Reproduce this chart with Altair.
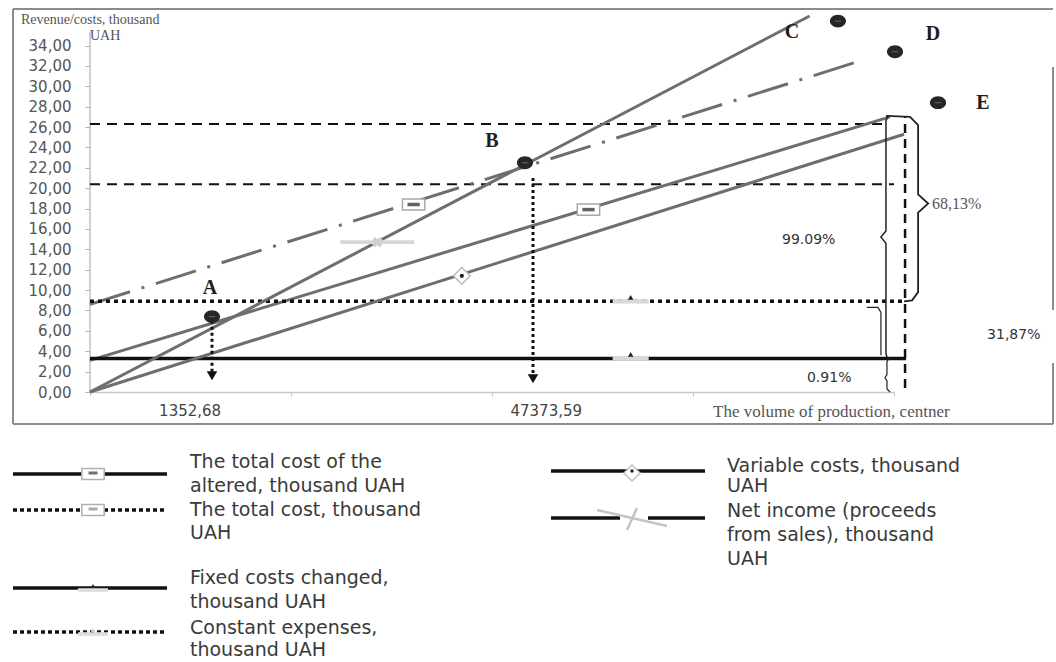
import altair as alt
import pandas as pd

# ---------------- data ----------------
series_names = [
    "The total cost of the altered, thousand  UAH",
    "The total cost, thousand UAH",
    "Fixed costs changed, thousand UAH",
    "Constant expenses, thousand UAH",
    "Variable costs, thousand UAH",
    "Net income (proceeds from sales), thousand UAH",
]
line_x0 = [0.0, 0.0, 0.0, 0.0, 0.0, 0.0]
line_x1 = [3.98, 3.80, 4.06, 4.06, 4.05, 3.58]
line_y0 = [3.1, 8.6, 3.3, 8.9, 0.0, 0.0]
line_y1 = [27.0, 32.3, 3.3, 8.9, 25.3, 36.9]
marker_x = [2.48, 1.61, 2.69, 2.69, 1.85, 1.43]
marker_y = [17.9, 18.4, 3.3, 8.9, 11.4, 14.7]

point_names = ["A", "B", "C", "D", "E"]
point_x = [0.607, 2.164, 3.721, 4.005, 4.219]
point_y = [7.4, 22.5, 36.4, 33.4, 28.4]
point_label_x = [0.597, 2.0, 3.493, 4.194, 4.443]
point_label_y = [10.2, 24.6, 35.3, 35.1, 28.4]

breakeven_labels = ["1352,68", "47373,59"]
breakeven_x = [0.607, 2.204]
breakeven_top = [7.0, 21.0]
breakeven_bottom = [1.6, 1.3]
breakeven_label_x = [0.498, 2.27]

guide_levels = [26.3, 20.4]
guide_end = [3.97, 4.0]
margin_x = [4.055]
margin_top = [27.0]
margin_bottom = [0.4]

pct_labels = ["99.09%", "68,13%", "31,87%", "0.91%"]
pct_x = [3.443, 4.189, 4.463, 3.567]
pct_y = [14.9, 18.5, 5.6, 1.4]

brace_right_x = [3.96, 4.08, 4.12, 4.12, 4.17, 4.12, 4.12, 4.09, 4.05]
brace_right_y = [27.1, 27.0, 26.2, 19.4, 18.5, 17.6, 9.8, 9.0, 8.9]
brace_left_x = [3.97, 3.96, 3.96, 3.935, 3.96, 3.96, 3.965]
brace_left_y = [27.1, 26.6, 15.8, 15.2, 14.6, 3.8, 3.4]
brace_small_x = [3.975, 3.965, 3.965, 3.955, 3.965, 3.965, 3.98]
brace_small_y = [3.3, 3.0, 1.7, 1.4, 1.1, 0.3, 0.0]
hook_x = [3.865, 3.92, 3.935, 3.935]
hook_y = [8.3, 8.3, 7.8, 3.6]

y_ticks = list(range(0, 35, 2))
x_ticks = [0, 1, 2, 3, 4]

y_title_lines = ["Revenue/costs, thousand", "UAH"]
x_title = "The volume of production, centner"

legend_texts = [
    "The total cost of the\naltered, thousand  UAH",
    "The total cost, thousand\nUAH",
    "Fixed costs changed,\nthousand UAH",
    "Constant expenses,\nthousand UAH",
    "Variable costs, thousand\nUAH",
    "Net income (proceeds\nfrom sales), thousand\nUAH",
]

# ---------------- scales / axes ----------------
xs = alt.Scale(domain=[0, 4], nice=False, zero=False)
ys = alt.Scale(domain=[0, 37], nice=False, zero=False)
x_axis = alt.Axis(values=x_ticks, labels=False, tickSize=4, tickColor="#c8c8c8",
                  domainColor="#c8c8c8", domainWidth=1.5, grid=False, title=None)
y_axis = alt.Axis(values=y_ticks, labelExpr="replace(format(datum.value, '.2f'), '.', ',')",
                  domain=False, grid=False, tickSize=5, tickColor="#b0b0b0",
                  labelColor="#555555", labelFont="DejaVu Sans", labelFontSize=15,
                  labelPadding=14, title=None)


def X(f):
    return alt.X(f, type="quantitative", scale=xs, axis=x_axis)


def Y(f):
    return alt.Y(f, type="quantitative", scale=ys, axis=y_axis)


def one():
    return alt.Chart(pd.DataFrame({"k": [0]}))


layers = []

# y axis line
layers.append(alt.Chart(pd.DataFrame({"x": [0.0], "y0": [0.0], "y1": [35.4]}))
              .mark_rule(color="#c0c0c0", strokeWidth=1.5)
              .encode(x=X("x"), y=Y("y0"), y2="y1"))

# dashed guide levels
layers.append(alt.Chart(pd.DataFrame({"y": guide_levels, "x0": [0.0, 0.0], "x1": guide_end}))
              .mark_rule(color="#111111", strokeWidth=2, strokeDash=[10, 7])
              .encode(x=X("x0"), x2="x1", y=Y("y")))
# vertical dashed margin line
layers.append(alt.Chart(pd.DataFrame({"x": margin_x, "y0": margin_bottom, "y1": margin_top}))
              .mark_rule(color="#111111", strokeWidth=2.5, strokeDash=[9, 6])
              .encode(x=X("x"), y=Y("y0"), y2="y1"))

# series lines
styles = [
    dict(color="#6e6e6e", strokeWidth=3),
    dict(color="#6e6e6e", strokeWidth=3, strokeDash=[42, 12, 3, 12]),
    dict(color="#111111", strokeWidth=3.5),
    dict(color="#111111", strokeWidth=3.5, strokeDash=[4, 4]),
    dict(color="#6e6e6e", strokeWidth=3),
    dict(color="#6e6e6e", strokeWidth=3),
]
for i in range(len(series_names)):
    df = pd.DataFrame({"x": [line_x0[i], line_x1[i]], "y": [line_y0[i], line_y1[i]],
                       "series": [series_names[i]] * 2})
    layers.append(alt.Chart(df).mark_line(**styles[i]).encode(x=X("x"), y=Y("y")))

# markers on the series
mk = pd.DataFrame({"x": marker_x, "y": marker_y, "series": series_names})
rect_path = "M-1,-0.5L1,-0.5L1,0.5L-1,0.5Z"
bar_path = "M-1,-0.12L1,-0.12L1,0.12L-1,0.12Z"
thin_bar = "M-1,-0.05L1,-0.05L1,0.05L-1,0.05Z"
for i in (0, 1):
    d = mk.iloc[[i]]
    layers.append(alt.Chart(d).mark_point(shape=rect_path, size=500, filled=True, fill="white",
                                          stroke="#a8a8a8", strokeWidth=1.5, opacity=1)
                  .encode(x=X("x"), y=Y("y")))
    layers.append(alt.Chart(d).mark_point(shape="stroke", size=150, stroke="#222222", strokeWidth=3.5)
                  .encode(x=X("x"), y=Y("y")))
for i in (2, 3):
    d = mk.iloc[[i]]
    layers.append(alt.Chart(d).mark_point(shape=bar_path, size=1300, filled=True, fill="#d8d8d8", opacity=1)
                  .encode(x=X("x"), y=Y("y")))
    layers.append(alt.Chart(d).mark_point(shape="triangle-up", size=30, filled=True, fill="#222222", opacity=1,
                                          yOffset=-4)
                  .encode(x=X("x"), y=Y("y")))
d = mk.iloc[[4]]
layers.append(alt.Chart(d).mark_point(shape="diamond", size=280, filled=True, fill="white",
                                      stroke="#bbbbbb", strokeWidth=1.5, opacity=1)
              .encode(x=X("x"), y=Y("y")))
layers.append(alt.Chart(d).mark_point(shape="circle", size=18, filled=True, fill="#222222", opacity=1)
              .encode(x=X("x"), y=Y("y")))
d = mk.iloc[[5]]
layers.append(alt.Chart(d).mark_point(shape=thin_bar, size=5500, filled=True, fill="#d6d6d6", opacity=1)
              .encode(x=X("x"), y=Y("y")))
layers.append(alt.Chart(d).mark_point(shape="cross", angle=45, size=110, filled=True, fill="#cfcfcf", opacity=1)
              .encode(x=X("x"), y=Y("y")))

# break-even drop lines and arrows
be = pd.DataFrame({"x": breakeven_x, "top": breakeven_top, "bottom": breakeven_bottom,
                   "label": breakeven_labels, "lx": breakeven_label_x,
                   "ly": [-1.9, -1.9]})
layers.append(alt.Chart(be).mark_rule(color="#111111", strokeWidth=3, strokeDash=[3, 3])
              .encode(x=X("x"), y=Y("top"), y2="bottom"))
layers.append(alt.Chart(be).mark_point(shape="triangle-down", size=110, filled=True, fill="#111111", opacity=1)
              .encode(x=X("x"), y=Y("bottom")))
layers.append(alt.Chart(be).mark_text(font="DejaVu Sans", fontSize=15, color="#444444", baseline="middle")
              .encode(x=X("lx"), y=Y("ly"), text="label:N"))

# braces and hooks
for bx, by, w in ((brace_right_x, brace_right_y, 1.8), (brace_left_x, brace_left_y, 1.5),
                  (brace_small_x, brace_small_y, 1.2), (hook_x, hook_y, 1.2)):
    bdf = pd.DataFrame({"x": bx, "y": by, "o": list(range(len(bx)))})
    layers.append(alt.Chart(bdf).mark_line(color="#222222", strokeWidth=w)
                  .encode(x=X("x"), y=Y("y"), order="o:Q"))

# percentages
pdf = pd.DataFrame({"x": pct_x, "y": pct_y, "t": pct_labels})
layers.append(alt.Chart(pdf.iloc[[0, 2, 3]]).mark_text(align="left", baseline="middle", font="DejaVu Sans",
                                                       fontSize=14, color="#333333")
              .encode(x=X("x"), y=Y("y"), text="t:N"))
layers.append(alt.Chart(pdf.iloc[[1]]).mark_text(align="left", baseline="middle", font="Liberation Serif",
                                                 fontSize=16, color="#555555")
              .encode(x=X("x"), y=Y("y"), text="t:N"))

# key points A-E
pts = pd.DataFrame({"x": point_x, "y": point_y, "name": point_names,
                    "lx": point_label_x, "ly": point_label_y})
layers.append(alt.Chart(pts).mark_point(shape="M-1,0A1,0.8,0,1,0,1,0A1,0.8,0,1,0,-1,0Z", size=260,
                                        filled=True, fill="#262626", opacity=1)
              .encode(x=X("x"), y=Y("y")))
layers.append(alt.Chart(pts).mark_point(shape="stroke", size=40, stroke="#777777", strokeWidth=1.2)
              .encode(x=X("x"), y=Y("y")))
layers.append(alt.Chart(pts).mark_text(font="Liberation Serif", fontWeight="bold", fontSize=20,
                                       color="#1e1e1e", baseline="middle")
              .encode(x=X("lx"), y=Y("ly"), text="name:N"))

# x title
layers.append(alt.Chart(pd.DataFrame({"x": [3.1], "y": [-1.95], "t": [x_title]}))
              .mark_text(align="left", baseline="middle", font="Liberation Serif", fontSize=17, color="#555555")
              .encode(x=X("x"), y=Y("y"), text="t:N"))

# y title (two lines)
layers.append(one().mark_text(align="left", baseline="middle", font="Liberation Serif", fontSize=14,
                              color="#555555", text=y_title_lines[0])
              .encode(x=alt.value(-69), y=alt.value(5)))
layers.append(one().mark_text(align="left", baseline="middle", font="Liberation Serif", fontSize=14,
                              color="#555555", text=y_title_lines[1])
              .encode(x=alt.value(0), y=alt.value(21)))

# outer frame
frame_col = "#8c8c8c"
for (x0, x1, y0, y1) in ((-77, 963, -6, -6), (-77, 963, 409, 409), (-77, -77, -6, 409),
                         (963, 963, 52, 295), (963, 963, 348, 409)):
    enc = dict(x=alt.value(x0), x2=alt.value(x1), y=alt.value(y0), y2=alt.value(y1))
    layers.append(one().mark_rule(color=frame_col, strokeWidth=2).encode(**enc))

# ---------------- legend (drawn) ----------------
legend_rows = [
    # (x0, x1, y, dash, marker, tx, ty, lineHeight)
    (-77, 77, 459, None, "box", 100, 453, 24),
    (-77, 77, 495, [4, 3], "box2", 100, 501, 23),
    (-77, 77, 573, None, "tri", 100, 569, 24),
    (-77, 77, 617, [4, 3], "tri2", 100, 619, 22),
    (461, 615, 456, None, "dia", 637, 457, 20),
    (461, 615, 503, None, "x", 637, 502, 24),
]
for i, (x0, x1, yy, dash, m, tx, ty, lh) in enumerate(legend_rows):
    rk = dict(color="#111111", strokeWidth=3.5)
    if dash:
        rk["strokeDash"] = dash
    layers.append(one().mark_rule(**rk).encode(x=alt.value(x0), x2=alt.value(x1), y=alt.value(yy)))
    cx = (x0 + x1) / 2 + (3 if i < 4 else 14)
    if m in ("box", "box2"):
        layers.append(one().mark_point(shape=rect_path, size=500, filled=True, fill="white",
                                       stroke="#b0b0b0", strokeWidth=1.5, opacity=1)
                      .encode(x=alt.value(cx), y=alt.value(yy)))
        layers.append(one().mark_point(shape="stroke", size=80, stroke="#333333" if m == "box" else "#888888",
                                       strokeWidth=3)
                      .encode(x=alt.value(cx), y=alt.value(yy - 1)))
    elif m in ("tri", "tri2"):
        layers.append(one().mark_point(shape=bar_path, size=900, filled=True, fill="#dddddd", opacity=1)
                      .encode(x=alt.value(cx), y=alt.value(yy + 2)))
        layers.append(one().mark_point(shape="triangle-up", size=22, filled=True,
                                       fill="#222222" if m == "tri" else "#cccccc", opacity=1)
                      .encode(x=alt.value(cx), y=alt.value(yy - 2)))
    elif m == "dia":
        layers.append(one().mark_point(shape="diamond", size=260, filled=True, fill="white",
                                       stroke="#c0c0c0", strokeWidth=1.5, opacity=1)
                      .encode(x=alt.value(cx - 10), y=alt.value(yy + 2)))
        layers.append(one().mark_point(shape="circle", size=12, filled=True, fill="#222222", opacity=1)
                      .encode(x=alt.value(cx - 10), y=alt.value(yy)))
    else:
        layers.append(one().mark_rule(color="white", strokeWidth=6)
                      .encode(x=alt.value(cx - 22), x2=alt.value(cx + 6), y=alt.value(yy)))
        layers.append(one().mark_rule(color="#c4c4c4", strokeWidth=2.5)
                      .encode(x=alt.value(cx - 45), x2=alt.value(cx + 25), y=alt.value(yy - 8),
                              y2=alt.value(yy + 8)))
        layers.append(one().mark_rule(color="#c4c4c4", strokeWidth=2.5)
                      .encode(x=alt.value(cx - 15), x2=alt.value(cx - 5), y=alt.value(yy + 12),
                              y2=alt.value(yy - 10)))
    layers.append(one().mark_text(text=legend_texts[i], font="DejaVu Sans", fontSize=19, color="#3a3a3a",
                                  align="left", baseline="alphabetic", lineBreak="\n", lineHeight=lh)
                  .encode(x=alt.value(tx), y=alt.value(ty)))

chart = (
    alt.layer(*layers)
    .properties(width=804, height=377,
                autosize=alt.AutoSizeParams(type="none"),
                padding={"left": 90, "top": 15, "right": 162, "bottom": 270},
                background="white")
    .configure_view(stroke=None)
)

chart.save("out.html", embed_options={"renderer": "svg", "actions": False})
